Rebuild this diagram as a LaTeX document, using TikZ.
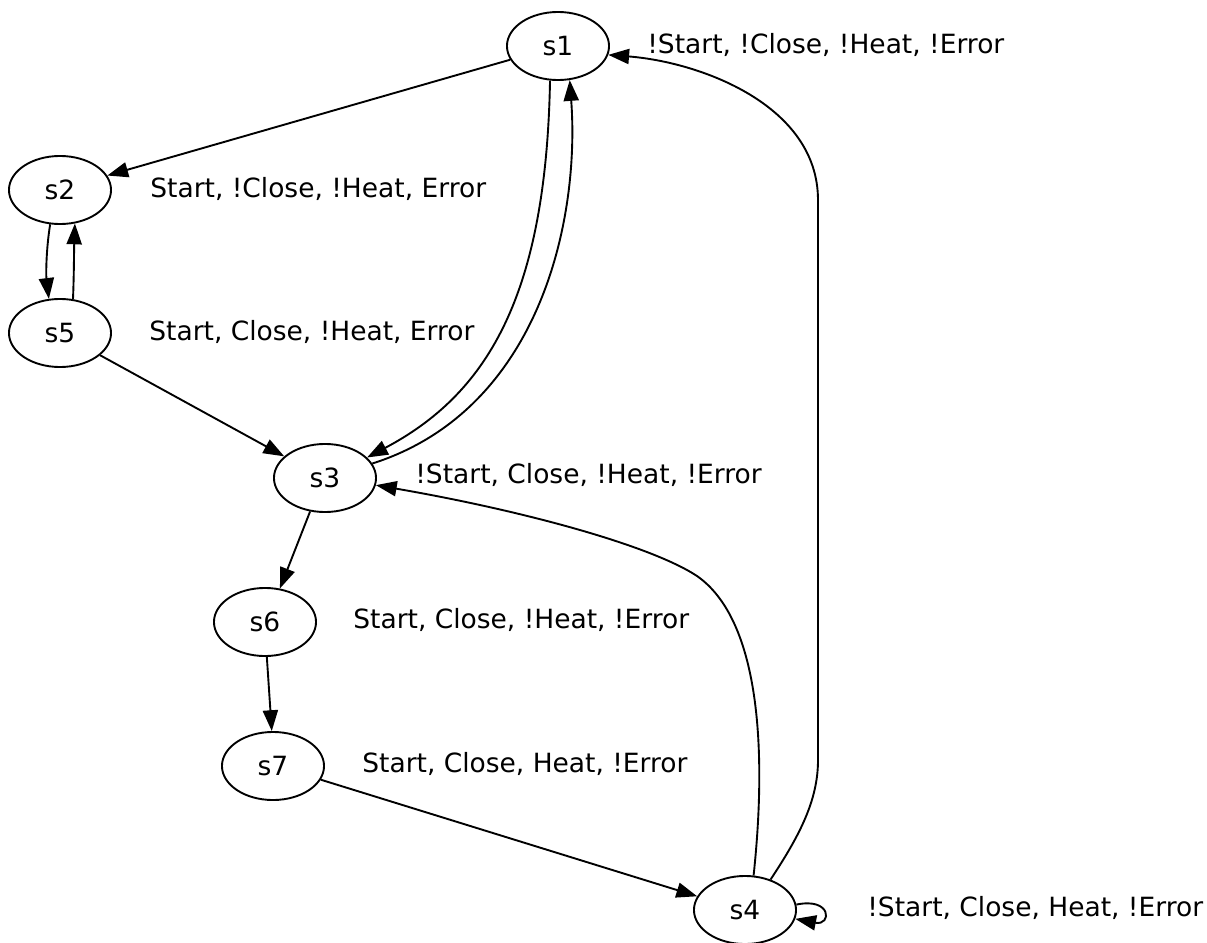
\documentclass[tikz,border=0pt]{standalone}
\usepackage{fontspec}
\setmainfont{DejaVu Sans}
\usetikzlibrary{arrows.meta,shapes.geometric}
\tikzset{
  >={Triangle[length=11pt,width=8pt]},
  every node/.style={font=\fontsize{14}{17}\selectfont},
  snode/.style={draw, ellipse, line width=1pt, minimum width=54pt, minimum height=36pt, inner sep=0pt},
  flow/.style={-{Triangle[length=11pt,width=8pt]}, line width=1pt},
  lbl/.style={anchor=base west, inner sep=0pt},
}

\begin{document}
\begin{tikzpicture}[x=0.529pt, y=-0.529pt]
  \useasboundingbox (0,0) rectangle (1207,943);

  % states
  \node[snode] (s1) at (558,46)  {s1};
  \node[snode] (s2) at (60,190)  {s2};
  \node[snode] (s5) at (60,333)  {s5};
  \node[snode] (s3) at (325,478) {s3};
  \node[snode] (s6) at (265,622) {s6};
  \node[snode] (s7) at (273,766) {s7};
  \node[snode] (s4) at (745,910) {s4};

  % outputs of each state
  \node[lbl] (o1) at (647,53)  {!Start, !Close, !Heat, !Error};
  \node[lbl] (o2) at (150,197) {Start, !Close, !Heat, Error};
  \node[lbl] (o5) at (149,340) {Start, Close, !Heat, Error};
  \node[lbl] (o3) at (415,483) {!Start, Close, !Heat, !Error};
  \node[lbl] (o6) at (353,628) {Start, Close, !Heat, !Error};
  \node[lbl] (o7) at (362,772) {Start, Close, Heat, !Error};
  \node[lbl] (o4) at (867,916) {!Start, Close, Heat, !Error};

  % transitions
  \draw[flow] (s1.196) -- (s2.17);
  \draw[flow] (s1.257) .. controls (546,300) and (485,395) .. (s3.26);
  \draw[flow] (s3.17) .. controls (540,410) and (580,220) .. (s1.289);
  \draw[flow] (s2.254) .. controls (46,250) and (46,275) .. (s5.108);
  \draw[flow] (s5.69) .. controls (74,275) and (74,250) .. (s2.294);
  \draw[flow] (s5.331) -- (s3.152);
  \draw[flow] (s3.246) -- (s6.66);
  \draw[flow] (s6.273) -- (s7.92);
  \draw[flow] (s7.344) -- (s4.164);

  % back edges from s4
  \draw[flow] (s4.76) .. controls (767,750) and (760,620) .. (697,576)
                      .. controls (650,545) and (520,510) .. (s3.352);
  \draw[flow] (s4.50) .. controls (800,835) and (818,800) .. (818,760)
                      -- (818,200) .. controls (818,105) and (700,62) .. (s1.350);
  \draw[flow] (s4.6) .. controls (832,897) and (832,926) .. (s4.350);
\end{tikzpicture}
\end{document}
